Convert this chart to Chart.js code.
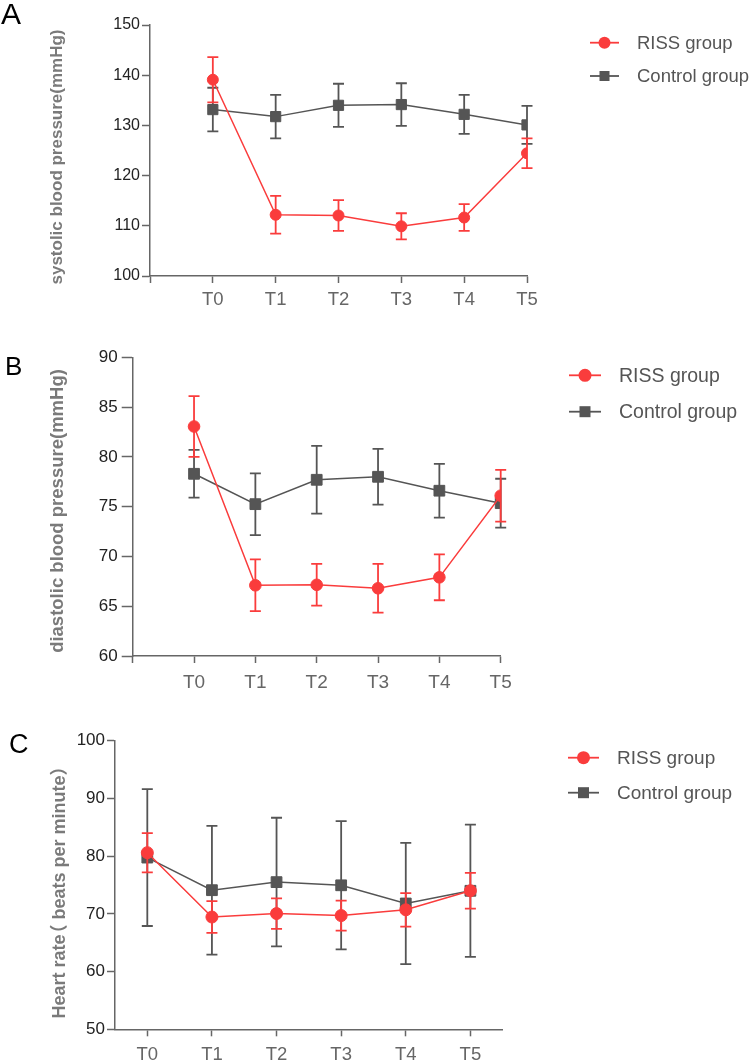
<!DOCTYPE html>
<html><head><meta charset="utf-8">
<script src="https://cdn.jsdelivr.net/npm/chart.js@4/dist/chart.umd.min.js"></script>
<style>
html,body{margin:0;padding:0;background:#fff;}
body{width:750px;height:1063px;position:relative;overflow:hidden;font-family:"Liberation Sans",Arial,sans-serif;}
canvas{position:absolute;left:0;}
.lbl{position:absolute;color:#000;line-height:1;font-family:"Liberation Sans",Arial,sans-serif;}
.ytitle{position:absolute;white-space:nowrap;font-weight:bold;color:#7a7a7a;line-height:normal;font-family:"Liberation Sans",Arial,"Noto Sans CJK SC",sans-serif;transform:translate(-50%,-50%) rotate(-90deg);}
.po{margin-left:-0.45em;}
.pc{margin-right:-0.45em;}
</style></head><body>
<canvas id="cA" width="750" height="320" style="top:0px"></canvas>
<canvas id="cB" width="750" height="390" style="top:320px"></canvas>
<canvas id="cC" width="750" height="353" style="top:710px"></canvas>
<div class="lbl" style="left:1px;top:-1px;font-size:30px">A</div>
<div class="lbl" style="left:5px;top:353px;font-size:26px">B</div>
<div class="lbl" style="left:9px;top:731px;font-size:27px">C</div>
<div class="ytitle" style="left:56.5px;top:156.5px;font-size:17px">systolic blood pressure(mmHg)</div>
<div class="ytitle" style="left:57px;top:510.5px;font-size:18.5px">diastolic blood pressure(mmHg)</div>
<div class="ytitle" style="left:56.5px;top:891.5px;font-size:18px">Heart rate<span class="po">（</span> beats per minute<span class="pc">）</span></div>
<script>
// ---- data ----
const categories = ['T0','T1','T2','T3','T4','T5'];
const seriesNames = ['RISS group','Control group'];

const sbpRiss    = [139.1, 112.2, 112.05, 109.9, 111.65, 124.45];
const sbpRissErr = [4.5, 3.75, 3.05, 2.6, 2.65, 2.95];
const sbpCtrl    = [133.15, 131.75, 134.0, 134.15, 132.2, 130.1];
const sbpCtrlErr = [4.35, 4.35, 4.3, 4.25, 3.9, 3.8];

const dbpRiss    = [83.05, 67.1, 67.15, 66.8, 67.9, 76.1];
const dbpRissErr = [3.05, 2.6, 2.1, 2.45, 2.3, 2.6];
const dbpCtrl    = [78.3, 75.25, 77.7, 78.0, 76.6, 75.35];
const dbpCtrlErr = [2.4, 3.1, 3.4, 2.8, 2.7, 2.45];

const hrRiss     = [80.6, 69.45, 70.05, 69.7, 70.7, 74.0];
const hrRissErr  = [3.4, 2.75, 2.65, 2.6, 2.9, 3.1];
const hrCtrl     = [79.75, 74.1, 75.5, 74.95, 71.8, 74.0];
const hrCtrlErr  = [11.85, 11.15, 11.15, 11.1, 10.5, 11.45];

const yTicksA = [100, 150, 10];
const yTicksB = [60, 90, 5];
const yTicksC = [50, 100, 10];

// ---- styles ----
const RED = '#fa3c3c';
const GRAY = '#555555';
const AXIS = '#666666';
const FONT = '"Liberation Sans", Arial, sans-serif';

const errorBars = {
  id: 'errorBars',
  beforeDatasetDraw(chart, args) {
    const ds = chart.data.datasets[args.index];
    if (!ds.errors) return;
    const y = chart.scales.y, ctx = chart.ctx;
    ctx.save();
    ctx.strokeStyle = ds.borderColor;
    ctx.lineWidth = 1.8;
    args.meta.data.forEach((pt, i) => {
      const v = ds.data[i].y, e = ds.errors[i];
      const t = y.getPixelForValue(v + e), b = y.getPixelForValue(v - e);
      const x = pt.x, c = ds.capHalf;
      ctx.beginPath();
      ctx.moveTo(x, t); ctx.lineTo(x, b);
      ctx.moveTo(x - c, t); ctx.lineTo(x + c, t);
      ctx.moveTo(x - c, b); ctx.lineTo(x + c, b);
      ctx.stroke();
    });
    ctx.restore();
  }
};

const customLegend = {
  id: 'customLegend',
  afterDraw(chart, args, o) {
    const ctx = chart.ctx;
    chart.data.datasets.forEach((ds, i) => {
      const y = o.ys[i];
      ctx.save();
      ctx.strokeStyle = ds.borderColor;
      ctx.fillStyle = ds.borderColor;
      ctx.lineWidth = 1.8;
      ctx.beginPath(); ctx.moveTo(o.x1, y); ctx.lineTo(o.x2, y); ctx.stroke();
      const mx = (o.x1 + o.x2) / 2;
      if (ds.pointStyle === 'circle') {
        ctx.beginPath(); ctx.arc(mx, y, o.r, 0, Math.PI * 2); ctx.fill();
      } else {
        ctx.fillRect(mx - o.s / 2, y - o.s / 2, o.s, o.s);
      }
      ctx.fillStyle = '#555';
      ctx.font = o.font + 'px ' + FONT;
      ctx.textBaseline = 'middle';
      ctx.fillText(ds.label, o.tx, y + 1);
      ctx.restore();
    });
  }
};

function pts(arr) { return arr.map((v, i) => ({ x: i, y: v })); }

function makeChart(id, p) {
  const tickVals = p.xTicks;
  return new Chart(document.getElementById(id), {
    type: 'line',
    data: {
      datasets: [
        { label: seriesNames[0], data: pts(p.riss), errors: p.rissErr, capHalf: p.cap,
          borderColor: RED, backgroundColor: RED, borderWidth: 1.5,
          pointStyle: 'circle', pointRadius: p.cr, pointBorderWidth: 1, pointBackgroundColor: RED, pointBorderColor: RED },
        { label: seriesNames[1], data: pts(p.ctrl), errors: p.ctrlErr, capHalf: p.cap,
          borderColor: GRAY, backgroundColor: GRAY, borderWidth: 1.5,
          pointStyle: 'rect', pointRadius: p.sr, pointBorderWidth: 1, pointBackgroundColor: GRAY, pointBorderColor: GRAY }
      ]
    },
    options: {
      responsive: false, animation: false, devicePixelRatio: 1,
      layout: { padding: { top: p.top, right: p.right, left: 0, bottom: 0 } },
      plugins: { legend: { display: false }, tooltip: { enabled: false }, customLegend: p.legend },
      scales: {
        x: {
          type: 'linear', min: p.xMin, max: p.xMax,
          afterBuildTicks: s => { s.ticks = tickVals.map(v => ({ value: v })); },
          afterFit: s => { s.height = p.xH; },
          ticks: { callback: v => (categories[v] !== undefined ? categories[v] : ''), autoSkip: false, maxRotation: 0,
                   color: '#666', font: { family: FONT, size: p.xFont }, padding: p.xPad },
          grid: { drawOnChartArea: false, drawTicks: true, tickLength: 7, tickColor: AXIS, tickWidth: 1.5 },
          border: { display: true, color: AXIS, width: 1.5 }
        },
        y: {
          type: 'linear', min: p.yT[0], max: p.yT[1],
          afterFit: s => { s.width = p.yW; },
          ticks: { stepSize: p.yT[2], color: '#222', font: { family: FONT, size: p.yFont }, padding: p.yPad },
          grid: { drawOnChartArea: false, drawTicks: true, tickLength: p.yTick, tickColor: AXIS, tickWidth: 1.5 },
          border: { display: true, color: AXIS, width: 1.5 }
        }
      }
    },
    plugins: [errorBars, customLegend]
  });
}

makeChart('cA', {
  riss: sbpRiss, rissErr: sbpRissErr, ctrl: sbpCtrl, ctrlErr: sbpCtrlErr,
  xMin: -1, xMax: 5, xTicks: [-1, 0, 1, 2, 3, 4, 5], yT: yTicksA,
  top: 25, right: 223, yW: 150, xH: 44, xFont: 18.5, xPad: 6, yFont: 16, yPad: 2, yTick: 8,
  cap: 5.5, cr: 5.5, sr: 7.2,
  legend: { x1: 590, x2: 619, ys: [42.7, 76], tx: 637, font: 18.5, r: 6, s: 10 }
});
makeChart('cB', {
  riss: dbpRiss, rissErr: dbpRissErr, ctrl: dbpCtrl, ctrlErr: dbpCtrlErr,
  xMin: -1, xMax: 5, xTicks: [-1, 0, 1, 2, 3, 4, 5], yT: yTicksB,
  top: 37.3, right: 249.3, yW: 132.7, xH: 54, xFont: 19, xPad: 8, yFont: 17, yPad: 4, yTick: 11,
  cap: 5.5, cr: 5.8, sr: 7.6,
  legend: { x1: 569, x2: 601, ys: [55.3, 91.7], tx: 619, font: 19.5, r: 6.5, s: 11 }
});
makeChart('cC', {
  riss: hrRiss, rissErr: hrRissErr, ctrl: hrCtrl, ctrlErr: hrCtrlErr,
  xMin: -0.5, xMax: 5.5, xTicks: [0, 1, 2, 3, 4, 5], yT: yTicksC,
  top: 30.7, right: 247.3, yW: 115, xH: 33.7, xFont: 18.5, xPad: 8, yFont: 17, yPad: 2, yTick: 8,
  cap: 5.5, cr: 6, sr: 7.6,
  legend: { x1: 568, x2: 599, ys: [47.7, 82.7], tx: 617, font: 19, r: 6.5, s: 11 }
});
</script>
</body></html>
